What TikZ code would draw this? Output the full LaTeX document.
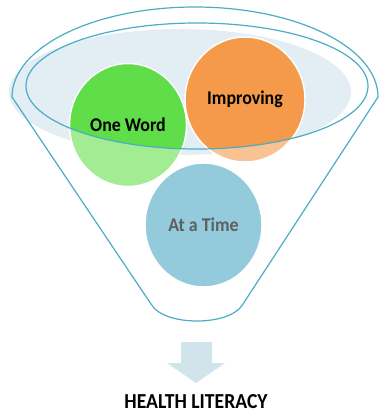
\documentclass[tikz,border=0pt]{standalone}
\usepackage{fontspec}
\setmainfont{Carlito}[FakeStretch=0.92]
\usepackage{tikz}
\usetikzlibrary{shapes.geometric}
\definecolor{funnelline}{HTML}{4BACC6}
\definecolor{rimshade}{HTML}{E2EEF3}
\definecolor{wordgreen}{HTML}{5FDE49}
\definecolor{wordgreenL}{HTML}{A2EC91}
\definecolor{wordorange}{HTML}{F59A4A}
\definecolor{wordorangeL}{HTML}{F9C292}
\definecolor{wordblue}{HTML}{93CBDC}
\definecolor{arrowblue}{HTML}{D1E4EC}
\definecolor{timegray}{HTML}{5F5F5F}

\begin{document}
\begin{tikzpicture}[x=0.75pt,y=-0.75pt]
\tikzstyle{funnel}=[draw=funnelline,line width=0.9pt]
\tikzstyle{word}=[font=\fontsize{14.6}{16}\selectfont\bfseries]
\tikzset{bubble/.style 2 args={ellipse,inner sep=0pt,draw=white,line width=1.1pt,fill=#1,
  path picture={\fill[#2] (rim) ellipse [x radius=171,y radius=63];}}}
\useasboundingbox (0,0) rectangle (379,413);
\coordinate (rim) at (197,86);
% shade behind the rim
\fill[rimshade] (180,92) ellipse [x radius=171,y radius=63];
% the three words
\node[bubble={wordgreenL}{wordgreen},word,minimum width=117*0.75pt,minimum height=123*0.75pt] (one) at (128,125) {One Word};
\node[bubble={wordorangeL}{wordorange},word,minimum width=120*0.75pt,minimum height=125*0.75pt] (improve) at (245,99.5) {Improving};
\node[bubble={wordblue}{wordblue},word,text=timegray,minimum width=117*0.75pt,minimum height=124*0.75pt] (time) at (203.5,225) {At a Time};
% funnel
\draw[funnel] (rim) ellipse [x radius=171,y radius=63];
\draw[funnel] (12,97) arc[start angle=180,end angle=360,x radius=183,y radius=90]
  -- (243,304) .. controls (236,316) and (216,321) .. (197,321)
  .. controls (178,321) and (158,316) .. (151,304) -- cycle;
% arrow and result
\fill[arrowblue] (181,342) -- (212,342) -- (212,363) -- (225,363) -- (196,383)
  -- (167,363) -- (181,363) -- cycle;
\node[word,font=\fontsize{16}{18}\selectfont\bfseries] (goal) at (196,402) {HEALTH LITERACY};
\end{tikzpicture}
\end{document}
